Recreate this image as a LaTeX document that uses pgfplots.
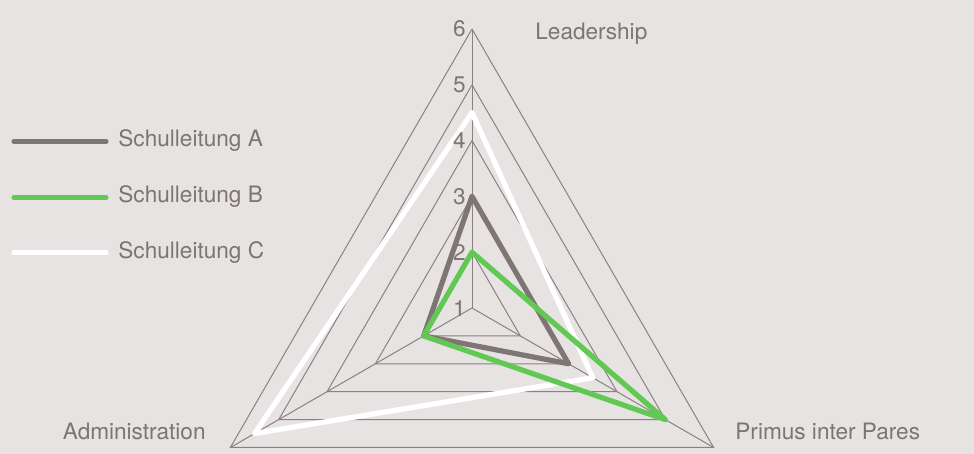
\documentclass[border=0pt]{standalone}
\usepackage{pgfplots}
\usepackage{pgfplotstable}
\pgfplotsset{compat=1.18}
\usepackage{fontspec}
\setmainfont{TeX Gyre Heros}
\definecolor{bg}{HTML}{E6E3E2}
\definecolor{gridc}{HTML}{8A8280}
\definecolor{sa}{HTML}{7E7674}
\definecolor{sb}{HTML}{62C854}
\definecolor{txt}{HTML}{7D7573}
\pgfplotstableread{
ang A B C
90  3 2 4.5
330 3 5 3.5
210 2 2 5.5
90  3 2 4.5
}\radar
\begin{document}
\begin{tikzpicture}[font=\fontsize{11.3bp}{13bp}\selectfont, every node/.style={text=txt, inner sep=0pt}]
\fill[bg] (0,0) rectangle (487bp,227bp);
\begin{axis}[x=27.9bp, y=27.9bp, hide axis, clip=false,
  xmin=-6, xmax=6, ymin=-3, ymax=6,
  anchor=origin, at={(236bp,73bp)},
  gridline/.style={gridc, line width=0.5bp, data cs=polar, mark=none, forget plot},
  series/.style={line width=2.6bp, line join=round, line cap=round, mark=none, data cs=polar}]
% grid triangles (radius shifted: value 1 at centre)
\addplot[gridline] coordinates {(90,1) (330,1) (210,1) (90,1)};
\addplot[gridline] coordinates {(90,2) (330,2) (210,2) (90,2)};
\addplot[gridline] coordinates {(90,3) (330,3) (210,3) (90,3)};
\addplot[gridline] coordinates {(90,4) (330,4) (210,4) (90,4)};
\addplot[gridline] coordinates {(90,5) (330,5) (210,5) (90,5)};
\addplot[gridline] coordinates {(90,0) (90,5)};
\addplot[gridline] coordinates {(330,0) (330,5)};
\addplot[gridline] coordinates {(210,0) (210,5)};
% series
\addplot[series, white] table[x=ang, y expr=\thisrow{C}-1] {\radar};
\addplot[series, sa] table[x=ang, y expr=\thisrow{A}-1] {\radar};
\addplot[series, sb] table[x=ang, y expr=\thisrow{B}-1] {\radar};
% radial tick labels
\node[anchor=east, xshift=-3bp] at (axis cs:0,0) {1};
\node[anchor=east, xshift=-3bp] at (axis cs:0,1) {2};
\node[anchor=east, xshift=-3bp] at (axis cs:0,2) {3};
\node[anchor=east, xshift=-3bp] at (axis cs:0,3) {4};
\node[anchor=east, xshift=-3bp] at (axis cs:0,4) {5};
\node[anchor=east, xshift=-3bp] at (axis cs:0,5) {6};
\end{axis}
% category labels
\node[anchor=base west] at (267.5bp,207.3bp) {Leadership};
\node[anchor=base west] at (367.5bp,7.3bp) {Primus inter Pares};
\node[anchor=base east] at (103bp,7.3bp) {Administration};
% legend
\draw[sa, line width=2.6bp, line cap=round] (7bp,156.2bp) -- (53bp,156.2bp);
\draw[sb, line width=2.6bp, line cap=round] (7bp,128.3bp) -- (53bp,128.3bp);
\draw[white, line width=2.6bp, line cap=round] (7bp,100.8bp) -- (53bp,100.8bp);
\node[anchor=base west] at (59bp,153.5bp) {Schulleitung A};
\node[anchor=base west] at (59bp,125.5bp) {Schulleitung B};
\node[anchor=base west] at (59bp,97.5bp) {Schulleitung C};
\end{tikzpicture}
\end{document}
